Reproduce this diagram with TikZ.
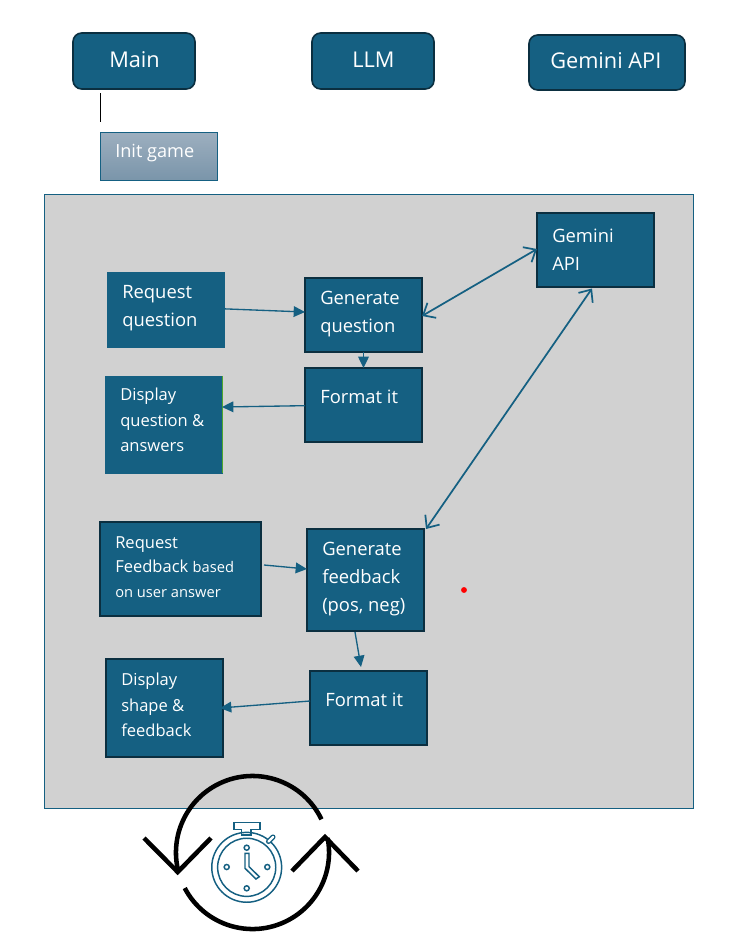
\documentclass[tikz,border=0pt]{standalone}
\usepackage{fontspec}
\setmainfont{Open Sans}
\usetikzlibrary{arrows.meta,calc}
\definecolor{teal}{HTML}{156082}
\definecolor{deep}{HTML}{0B2F40}
\definecolor{panel}{HTML}{D1D1D1}
\definecolor{inittop}{HTML}{9DAFBF}
\definecolor{initbot}{HTML}{7A95AA}
\definecolor{edge}{HTML}{4EA72E}
\tikzset{
 x=0.75pt,y=-0.75pt,
 sz/.style n args={2}{minimum width=#1*0.75pt,minimum height=#2*0.75pt},
 box/.style={rectangle,fill=teal,draw=deep,line width=1.4pt,inner sep=0pt,outer sep=0pt,anchor=north west},
 plainbox/.style={box,draw=teal,line width=0.5pt},
 head/.style={box,rounded corners=6.5pt,line width=1.2pt},
 txt/.style={text=white,inner sep=0pt,anchor=west,align=left,font=\fontsize{#1}{21pt}\selectfont},
 txt/.default=13.8pt,
 conn/.style={teal,line width=1pt,-{Triangle[length=8.5pt,width=8pt]}},
 twin/.style={teal,line width=1.3pt,{Straight Barb[length=7.5pt,width=13pt]}-{Straight Barb[length=7.5pt,width=13pt]}},
 loopline/.style={black,line width=3.4pt},
 icon/.style={teal,line width=1.1pt},
}
\begin{document}
\begin{tikzpicture}
\useasboundingbox (0,0) rectangle (733,940);
\fill[white] (0,0) rectangle (733,940);
% heads
\node[head,sz={122}{56}] (main) at (73,33) {};
\node[head,sz={122}{56}] (llm) at (312,33) {};
\node[head,sz={156}{55}] (gem) at (529,35) {};
\node[txt=16.3pt] (tmain) at (109,60) {Main};
\node[txt=16.3pt] (tllm) at (352,60) {LLM};
\node[txt=16.3pt] (tgem) at (550,61) {Gemini API};
% init
\node[plainbox,top color=inittop,bottom color=initbot,sz={117}{48}] (init) at (100,132) {};
\node[txt=13.6pt] (tinit) at (115,153) {Init game};
\coordinate (lifeTop) at (100,93);
\coordinate (lifeEnd) at (100,122);
\draw[black,line width=0.6pt] (lifeTop) -- (lifeEnd);
% panel
\node[rectangle,fill=panel,draw=teal,line width=0.7pt,inner sep=0pt,anchor=north west,sz={649}{614}] (panel) at (44,194) {};
% boxes
\node[box,sz={117}{74}] (api) at (537,213) {};
\node[plainbox,sz={117}{75}] (reqq) at (107,272) {};
\node[box,sz={117}{74}] (genq) at (305,278) {};
\node[box,sz={117}{74}] (fmtq) at (305,368) {};
\node[plainbox,sz={117}{97}] (dispq) at (105,376) {};
\draw[edge,line width=0.7pt] (dispq.north east) -- (dispq.south east);
\node[box,sz={161}{94}] (reqf) at (100,522) {};
\node[box,sz={117}{102}] (genf) at (307,529) {};
\node[box,sz={117}{98}] (dispf) at (106,659) {};
\node[box,sz={117}{74}] (fmtf) at (310,671) {};
% labels
\node[txt] (t1) at (552,250) {Gemini\\API};
\node[txt] (t2) at (122,308.5) {Request\\question};
\node[txt] (t3) at (320,314.5) {Generate\\question};
\node[txt] (t4) at (320,397) {Format it};
\node[txt=12.4pt,font=\fontsize{12.4pt}{19pt}\selectfont] (t5) at (120,420) {Display\\question \&\\answers};
\node[txt=12.4pt,font=\fontsize{12.4pt}{18.5pt}\selectfont] (t6) at (115,567) {Request\\Feedback {\fontsize{11pt}{18.5pt}\selectfont based}\\{\fontsize{11pt}{18.5pt}\selectfont on user answer}};
\node[txt] (t7) at (322,579.5) {Generate\\feedback\\(pos, neg)};
\node[txt=12.4pt,font=\fontsize{12.4pt}{19pt}\selectfont] (t8) at (121,705) {Display\\shape \&\\feedback};
\node[txt] (t9) at (325,700) {Format it};
% connectors
\draw[conn] ([yshift=0.5pt]reqq.east) -- (genq.west |- 0,312);
\draw[conn] (genq.south) -- (fmtq.north);
\draw[conn] ([yshift=-0.5pt]fmtq.west) -- (dispq.east |- 0,407);
\draw[twin] (genq.east |- 0,316) -- (api.west |- 0,249);
\draw[twin] (592,288.5) -- (426,529);
\draw[conn] (264,565) -- (genf.west |- 0,569);
\draw[conn] (355,632) -- (361,667);
\draw[conn] (fmtf.west |- 0,701) -- (220,708);
\fill[red] (464,590) circle[radius=2.2pt];
% loop
\draw[loopline] (252.5,852.5) ++(25.7:57.4pt) arc[start angle=25.7,end angle=194.4,radius=57.4pt];
\draw[loopline] (252.5,852.5) ++(207.7:57.4pt) arc[start angle=207.7,end angle=371,radius=57.4pt];
\draw[loopline] (144,838) -- (177.7,872) -- (211,838);
\draw[loopline] (292,871) -- (325,837) -- (358,871);
% stopwatch
\draw[icon] (246.7,867.3) circle[radius=26.2pt];
\draw[icon] (246.7,867.3) circle[radius=21.8pt];
\draw[icon] (234,822.7) -- (260,822.7) -- (260,829.3) -- (251,829.3) -- (251,835) -- (241.7,835) -- (241.7,829.3) -- (234,829.3) -- cycle;
\draw[icon] (245,853.3) -- (249,853.3) -- (249,866.7) -- (259.3,876.7) -- (256,879) -- (245,868.3) -- cycle;
\draw[icon,fill=white] (246.7,847.7) circle[radius=1.9pt];
\draw[icon,fill=white] (246.7,888.3) circle[radius=1.9pt];
\draw[icon,fill=white] (226.7,867) circle[radius=1.9pt];
\draw[icon,fill=white] (267.3,867) circle[radius=1.9pt];
\draw[teal,line width=3.8pt,line cap=round] (268.5,841.5) -- (273,837);
\draw[white,line width=1.8pt,line cap=round] (268.5,841.5) -- (273,837);
\end{tikzpicture}
\end{document}
